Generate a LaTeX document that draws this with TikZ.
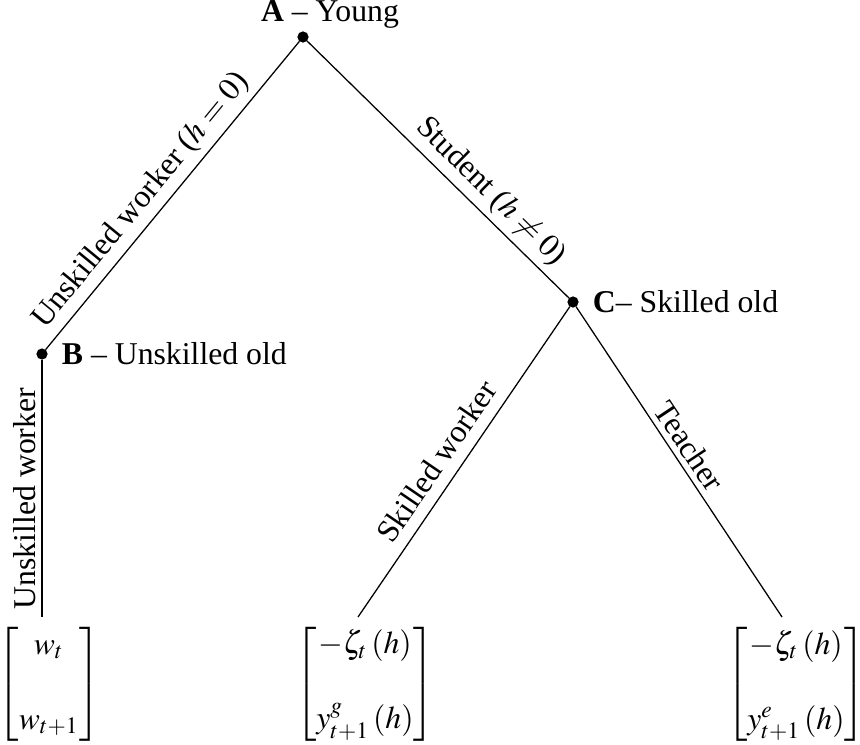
\documentclass[tikz,border=0pt]{standalone}
\usepackage{amsmath}
\usepackage{mathptmx}
\usepackage{fontspec}
\setmainfont{Liberation Serif}
\usetikzlibrary{positioning}
\begin{document}
\begin{tikzpicture}
[x=0.315pt, y=-0.315pt,
dot/.style={circle,draw,fill=black,inner sep=0pt,minimum size=3.1pt},
payoff/.style={inner sep=0pt},
edgelabel/.style={sloped,above,inner sep=1.8pt}]
\useasboundingbox (0,0) rectangle (860,745);
% decision nodes
\node[dot] (A) at (303,37) {};
\node[dot] (B) at (42,354) {};
\node[dot] (C) at (573,302) {};
\node[anchor=base,inner sep=0pt] (Alab) at (330,22) {\textbf{A} -- Young};
\node[right=1pt of B] (Blab) {\textbf{B} -- Unskilled old};
\node[right=1pt of C] (Clab) {\textbf{C}-- Skilled old};
% payoffs
\node[payoff] (wB) at (49,684) {$\begin{bmatrix} w_t \\[11.6pt] w_{t+1} \end{bmatrix}$};
\node[payoff] (wG) at (365,684) {$\begin{bmatrix} -\zeta_t\left(h\right) \\[11.6pt] y^{g}_{t+1}\left(h\right) \end{bmatrix}$};
\node[payoff] (wE) at (796,684) {$\begin{bmatrix} -\zeta_t\left(h\right) \\[11.6pt] y^{e}_{t+1}\left(h\right) \end{bmatrix}$};
\coordinate (Bend) at (42,617);
\coordinate (Gend) at (358,617);
\coordinate (Eend) at (782,617);
% branches
\draw (B) -- (A) node[edgelabel,pos=0.44] {Unskilled worker ($h=0$)};
\draw (A) -- (C) node[edgelabel,pos=0.645] {Student ($h\neq0$)};
\draw (Bend) -- (B) node[edgelabel,pos=0.46] {Unskilled worker};
\draw (Gend) -- (C) node[edgelabel,pos=0.46,inner sep=3.5pt] {Skilled worker};
\draw (C) -- (Eend) node[edgelabel,pos=0.48] {Teacher};
\end{tikzpicture}
\end{document}
